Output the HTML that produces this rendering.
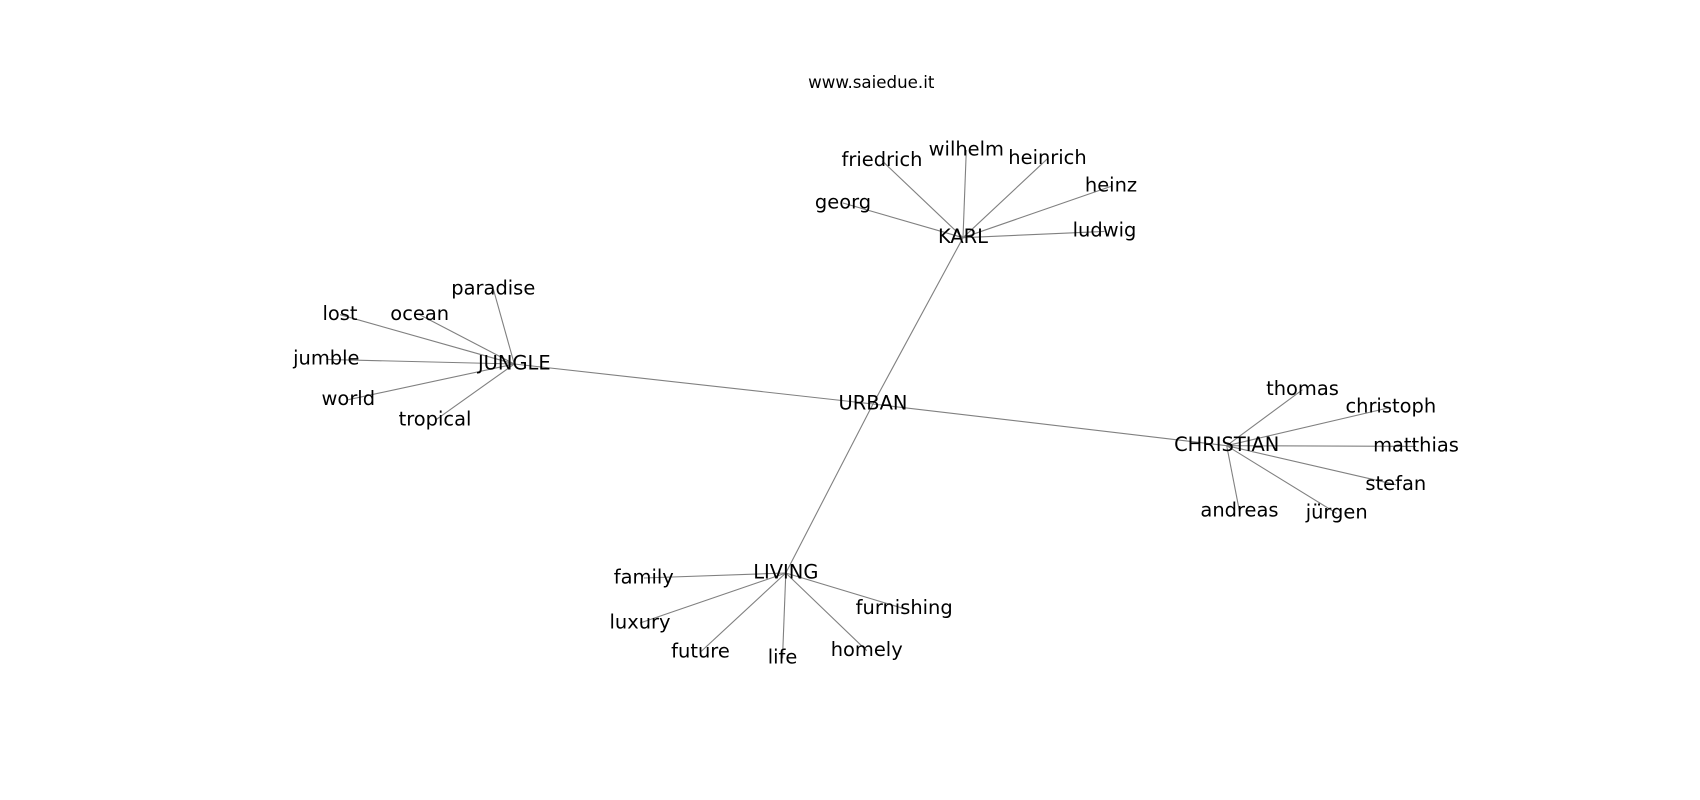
<!DOCTYPE html>
<html>
<head>
<meta charset="utf-8">
<style>
  html,body{margin:0;padding:0;background:#fff;}
  svg{display:block;}
  text{font-family:"DejaVu Sans","Liberation Sans",sans-serif;fill:#000;}
  .n{font-size:19.44px;text-anchor:middle;}
  .t{font-size:16.67px;text-anchor:middle;}
  line{stroke:#808080;stroke-width:1.1;}
</style>
</head>
<body>
<svg width="1700" height="800" viewBox="0 0 1700 800" xmlns="http://www.w3.org/2000/svg">
  <rect width="1700" height="800" fill="#fff"/>
  <g>
    <!-- hub edges -->
    <line x1="873" y1="404" x2="963" y2="237.7"/>
    <line x1="873" y1="404" x2="514.3" y2="364"/>
    <line x1="873" y1="404" x2="1226.7" y2="445.7"/>
    <line x1="873" y1="404" x2="785.8" y2="573"/>
    <!-- KARL -->
    <line x1="963" y1="237.7" x2="882" y2="160.7"/>
    <line x1="963" y1="237.7" x2="966.3" y2="150"/>
    <line x1="963" y1="237.7" x2="1047.5" y2="158.7"/>
    <line x1="963" y1="237.7" x2="1111" y2="186.4"/>
    <line x1="963" y1="237.7" x2="1104.5" y2="231.4"/>
    <line x1="963" y1="237.7" x2="843" y2="203"/>
    <!-- JUNGLE -->
    <line x1="514.3" y1="364" x2="493.3" y2="289"/>
    <line x1="514.3" y1="364" x2="340" y2="314.7"/>
    <line x1="514.3" y1="364" x2="419.7" y2="314.7"/>
    <line x1="514.3" y1="364" x2="326.3" y2="359.4"/>
    <line x1="514.3" y1="364" x2="348.3" y2="399.7"/>
    <line x1="514.3" y1="364" x2="435" y2="420.4"/>
    <!-- CHRISTIAN -->
    <line x1="1226.7" y1="445.7" x2="1302.5" y2="389.7"/>
    <line x1="1226.7" y1="445.7" x2="1390.8" y2="407.4"/>
    <line x1="1226.7" y1="445.7" x2="1416" y2="446.4"/>
    <line x1="1226.7" y1="445.7" x2="1395.8" y2="484.7"/>
    <line x1="1226.7" y1="445.7" x2="1239.5" y2="511.4"/>
    <line x1="1226.7" y1="445.7" x2="1336.7" y2="513.4"/>
    <!-- LIVING -->
    <line x1="785.8" y1="573" x2="643.8" y2="578"/>
    <line x1="785.8" y1="573" x2="904.2" y2="608.7"/>
    <line x1="785.8" y1="573" x2="640" y2="623"/>
    <line x1="785.8" y1="573" x2="700.5" y2="652"/>
    <line x1="785.8" y1="573" x2="782.5" y2="658.4"/>
    <line x1="785.8" y1="573" x2="866.7" y2="650.7"/>
  </g>

  <text class="t" x="871.25" y="88">www.saiedue.it</text>

  <text class="n" x="873" y="409.3">URBAN</text>

  <text class="n" x="963" y="243">KARL</text>
  <text class="n" x="882" y="166">friedrich</text>
  <text class="n" x="966.3" y="155.3">wilhelm</text>
  <text class="n" x="1047.5" y="164">heinrich</text>
  <text class="n" x="1111" y="191.7">heinz</text>
  <text class="n" x="1104.5" y="236.7">ludwig</text>
  <text class="n" x="843" y="208.3">georg</text>

  <text class="n" x="514.3" y="369.3">JUNGLE</text>
  <text class="n" x="493.3" y="294.3">paradise</text>
  <text class="n" x="340" y="320">lost</text>
  <text class="n" x="419.7" y="320">ocean</text>
  <text class="n" x="326.3" y="364.7">jumble</text>
  <text class="n" x="348.3" y="405">world</text>
  <text class="n" x="435" y="425.7">tropical</text>

  <text class="n" x="1226.7" y="451">CHRISTIAN</text>
  <text class="n" x="1302.5" y="395">thomas</text>
  <text class="n" x="1390.8" y="412.7">christoph</text>
  <text class="n" x="1416" y="451.7">matthias</text>
  <text class="n" x="1395.8" y="490">stefan</text>
  <text class="n" x="1239.5" y="516.7">andreas</text>
  <text class="n" x="1336.7" y="518.7">jürgen</text>

  <text class="n" x="785.8" y="578.3">LIVING</text>
  <text class="n" x="643.8" y="583.3">family</text>
  <text class="n" x="904.2" y="614">furnishing</text>
  <text class="n" x="640" y="628.3">luxury</text>
  <text class="n" x="700.5" y="657.3">future</text>
  <text class="n" x="782.5" y="663.7">life</text>
  <text class="n" x="866.7" y="656">homely</text>
</svg>
</body>
</html>
